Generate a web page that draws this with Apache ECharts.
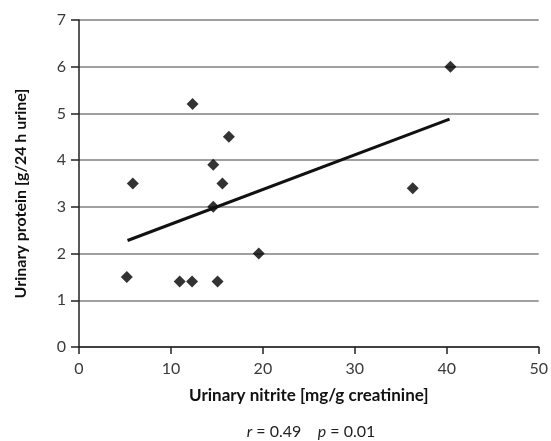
<!DOCTYPE html>
<html><head><meta charset="utf-8">
<script src="https://cdn.jsdelivr.net/npm/echarts@6/dist/echarts.min.js"></script>
<style>html,body{margin:0;padding:0;background:#fff}#c{width:551px;height:441px}</style>
</head><body><div id="c"></div>
<script>
const nitrite = [5.2, 5.85, 10.95, 12.3, 12.35, 14.6, 14.6, 15.07, 15.6, 16.3, 19.55, 36.3, 40.4];
const protein = [1.5, 3.5, 1.4, 1.4, 5.2, 3.9, 3.0, 1.4, 3.5, 4.5, 2.0, 3.4, 6.0];
const trendX = [5.28, 40.3];
const trendY = [2.28, 4.88];
const xTitle = 'Urinary nitrite [mg/g creatinine]';
const yTitle = 'Urinary protein [g/24 h urine]';

const font = 'Lato';
const chart = echarts.init(document.getElementById('c'), null, {renderer: 'canvas'});
chart.setOption({
  animation: false,
  textStyle: {fontFamily: font},
  grid: {left: 79, right: 8, top: 20, bottom: 94},
  xAxis: {
    type: 'value', min: 0, max: 50, interval: 10,
    name: xTitle, nameLocation: 'middle', nameGap: 40,
    nameTextStyle: {fontSize: 17, fontWeight: 'bold', color: '#111', fontFamily: font},
    axisLine: {show: true, lineStyle: {color: '#222', width: 1.5}},
    axisTick: {show: true, length: 7, lineStyle: {color: '#222', width: 1.5}},
    axisLabel: {fontSize: 16, color: '#3a3a3a', margin: 14},
    splitLine: {show: false}
  },
  yAxis: {
    type: 'value', min: 0, max: 7, interval: 1,
    name: yTitle, nameLocation: 'middle', nameGap: 50, nameRotate: 90,
    nameTextStyle: {fontSize: 16, fontWeight: 'bold', color: '#111', fontFamily: font, padding: [0, 20, 0, 0]},
    axisLine: {show: true, lineStyle: {color: '#222', width: 1.5}},
    axisTick: {show: true, length: 8, lineStyle: {color: '#222', width: 1.5}},
    axisLabel: {fontSize: 16, color: '#3a3a3a', margin: 13},
    splitLine: {show: true, lineStyle: {color: '#808080', width: 1.5}}
  },
  series: [
    {
      type: 'scatter', symbol: 'diamond', symbolSize: 12,
      itemStyle: {color: '#000'},
      data: nitrite.map((x, i) => [x, protein[i]])
    },
    {
      type: 'line', symbol: 'none', silent: true,
      lineStyle: {color: '#111', width: 3},
      data: trendX.map((x, i) => [x, trendY[i]])
    }
  ],
  graphic: [{
    type: 'text', x: 311, y: 424,
    style: {
      text: '{i|r} = 0.49    {i|p} = 0.01',
      align: 'center', textAlign: 'center',
      rich: {i: {fontStyle: 'italic', fontSize: 16, fontFamily: font, fill: '#222'}},
      font: '16px ' + font, fill: '#222'
    }
  }]
});
</script></body></html>
